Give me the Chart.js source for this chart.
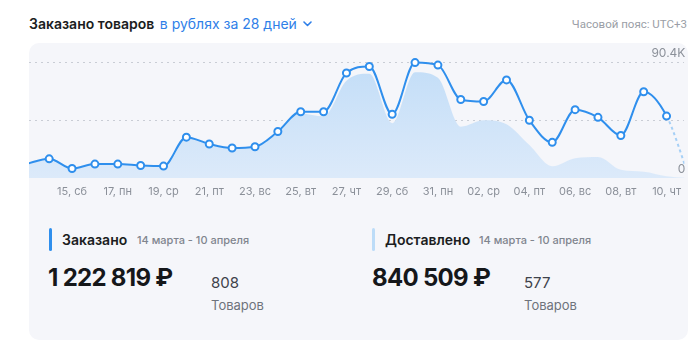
<!DOCTYPE html>
<html>
<head>
<meta charset="utf-8">
<script src="https://cdn.jsdelivr.net/npm/chart.js@4.4.1/dist/chart.umd.min.js"></script>
<style>
  html, body { margin: 0; padding: 0; background: #ffffff; }
  body { width: 700px; height: 355px; position: relative; overflow: hidden; font-family: Inter, "Noto Sans", sans-serif; }
  .abs { position: absolute; white-space: nowrap; }
  #title { left: 29px; top: 14px; font-size: 14px; font-weight: 600; color: #1b1d21; line-height: 20px; }
  #title .blue { color: #2f7fe8; font-weight: 400; margin-left: 2px; }
  #title svg { vertical-align: middle; margin-left: 6px; margin-top: -2px; }
  #tz { right: 13px; top: 16px; font-family: Roboto, sans-serif; font-size: 11.5px; color: #9a9ea6; line-height: 16px; }
  #card { left: 29px; top: 43px; width: 659px; height: 297px; background: #f5f6fa; border-radius: 10px; }
  #chartBox { left: 29px; top: 43px; width: 659px; height: 162px; overflow: hidden; border-radius: 10px 10px 0 0; }
  .bar { width: 3px; height: 23px; border-radius: 2px; top: 228px; }
  .lbl { font-size: 14px; font-weight: 600; color: #1b1d21; top: 230px; line-height: 20px; }
  .rng { font-size: 11px; font-weight: 500; color: #80858e; top: 232px; line-height: 16px; }
  .big { font-size: 24px; font-weight: 700; color: #15171a; top: 263px; line-height: 30px; letter-spacing: -0.7px; }
  .cnt { font-size: 15px; font-weight: 400; color: #3e424a; top: 273px; line-height: 20px; }
  .unit { font-size: 13px; font-weight: 400; color: #6e737c; top: 296px; line-height: 18px; }
</style>
</head>
<body>
<div class="abs" id="title">Заказано товаров <span class="blue">в рублях за 28 дней</span><svg width="9" height="6" viewBox="0 0 9 6"><path d="M1 1 L4.5 4.5 L8 1" fill="none" stroke="#2f7fe8" stroke-width="1.6" stroke-linecap="round" stroke-linejoin="round"/></svg></div>
<div class="abs" id="tz">Часовой пояс: UTC+3</div>
<div class="abs" id="card"></div>
<div class="abs" id="chartBox"><canvas id="c" width="659" height="162"></canvas></div>

<div class="abs bar" style="left:49px; background:#2f8fed;"></div>
<div class="abs lbl" style="left:62px;">Заказано</div>
<div class="abs rng" style="left:137px;">14 марта - 10 апреля</div>
<div class="abs big" style="left:48px;">1 222 819 ₽</div>
<div class="abs cnt" style="left:211px;">808</div>
<div class="abs unit" style="left:211px;">Товаров</div>

<div class="abs bar" style="left:372px; background:#bcdcf8;"></div>
<div class="abs lbl" style="left:385px;">Доставлено</div>
<div class="abs rng" style="left:479px;">14 марта - 10 апреля</div>
<div class="abs big" style="left:372px;">840 509 ₽</div>
<div class="abs cnt" style="left:524px;">577</div>
<div class="abs unit" style="left:524px;">Товаров</div>

<script>
// Days from 13 March to 11 April (first and last are partly outside the view)
const days = ['13, чт','14, пт','15, сб','16, вс','17, пн','18, вт','19, ср','20, чт','21, пт','22, сб',
              '23, вс','24, пн','25, вт','26, ср','27, чт','28, пт','29, сб','30, вс','31, пн','01, вт',
              '02, ср','03, чт','04, пт','05, сб','06, вс','07, пн','08, вт','09, ср','10, чт','11, пт'];
// Ordered, thousand rubles
const ordered = [11.1, 15.0, 7.4, 10.9, 10.9, 9.8, 9.3, 32.0, 26.6, 23.5,
                 24.5, 36.4, 51.9, 51.9, 82.2, 87.3, 49.9, 90.4, 88.4, 61.5,
                 59.9, 76.8, 45.2, 27.9, 53.5, 47.5, 33.3, 67.5, 48.5, 0];
// Delivered, thousand rubles
const delivered = [10.7, 14.6, 7.2, 10.7, 10.7, 9.5, 9.2, 31.6, 26.2, 23.1,
                   23.9, 35.9, 50.6, 48.3, 76.2, 81.6, 42.9, 82.8, 78.5, 40.2,
                   45.2, 42.1, 25.8, 9.2, 15.4, 16.5, 6.4, 4.9, 1.4, 0];
const xTicks = [2,4,6,8,10,12,14,16,18,20,22,24,26,28];
const yTicks = [0, 45.2, 90.4];
const yTickLabels = ['0', '', '90.4K'];

const toPts = arr => arr.map((v, i) => ({ x: i, y: v }));
const lastIdx = days.length - 1;

const areaGradient = (ctx) => {
  const chart = ctx.chart;
  const a = chart.chartArea;
  if (!a) return '#cfe4f9';
  const g = chart.ctx.createLinearGradient(0, a.top, 0, a.bottom);
  g.addColorStop(0, '#c0dcf7');
  g.addColorStop(1, '#dceafa');
  return g;
};

new Chart(document.getElementById('c'), {
  type: 'line',
  data: {
    datasets: [
      {
        label: 'Заказано',
        data: toPts(ordered),
        order: 0,
        borderColor: '#2f8fed',
        borderWidth: 2,
        cubicInterpolationMode: 'monotone',
        fill: false,
        pointRadius: c => (c.dataIndex === 0 || c.dataIndex === lastIdx) ? 0 : 3.5,
        pointBorderWidth: 2,
        pointBackgroundColor: '#ffffff',
        pointBorderColor: '#2f8fed',
        segment: {
          borderDash: c => c.p1DataIndex === lastIdx ? [3, 3] : undefined,
          borderColor: c => c.p1DataIndex === lastIdx ? '#a6d0f6' : undefined
        }
      },
      {
        label: 'Доставлено',
        data: toPts(delivered),
        order: 1,
        borderWidth: 0,
        borderColor: 'rgba(0,0,0,0)',
        backgroundColor: areaGradient,
        cubicInterpolationMode: 'monotone',
        fill: 'origin',
        pointRadius: 0
      }
    ]
  },
  options: {
    responsive: false,
    animation: false,
    events: [],
    layout: { padding: 0 },
    plugins: { legend: { display: false }, tooltip: { enabled: false } },
    scales: {
      x: {
        type: 'linear',
        min: 0.117,
        max: 28.78,
        afterBuildTicks: s => { s.ticks = xTicks.map(v => ({ value: v })); },
        afterFit: s => { s.height = 27; },
        grid: { display: false, drawTicks: false },
        border: { display: false },
        ticks: {
          callback: v => days[v],
          color: '#8b9099',
          font: { family: 'Inter', size: 11 },
          padding: 7,
          maxRotation: 0,
          autoSkip: false
        }
      },
      y: {
        position: 'right',
        min: 0,
        max: 99.3,
        afterBuildTicks: s => { s.ticks = yTicks.map(v => ({ value: v })); },
        afterFit: s => { s.width = 0; },
        grid: {
          drawTicks: false,
          color: c => (c.tick && c.tick.value === 0) ? 'rgba(0,0,0,0)' : '#c9cdd5',
          lineWidth: 1
        },
        border: { display: false, dash: [2, 4] },
        ticks: {
          mirror: true,
          padding: 1,
          labelOffset: -9,
          color: '#8b9099',
          font: { family: 'Inter', size: 12 },
          callback: (v, i) => yTickLabels[yTicks.indexOf(v)]
        }
      }
    }
  }
});
</script>
</body>
</html>
